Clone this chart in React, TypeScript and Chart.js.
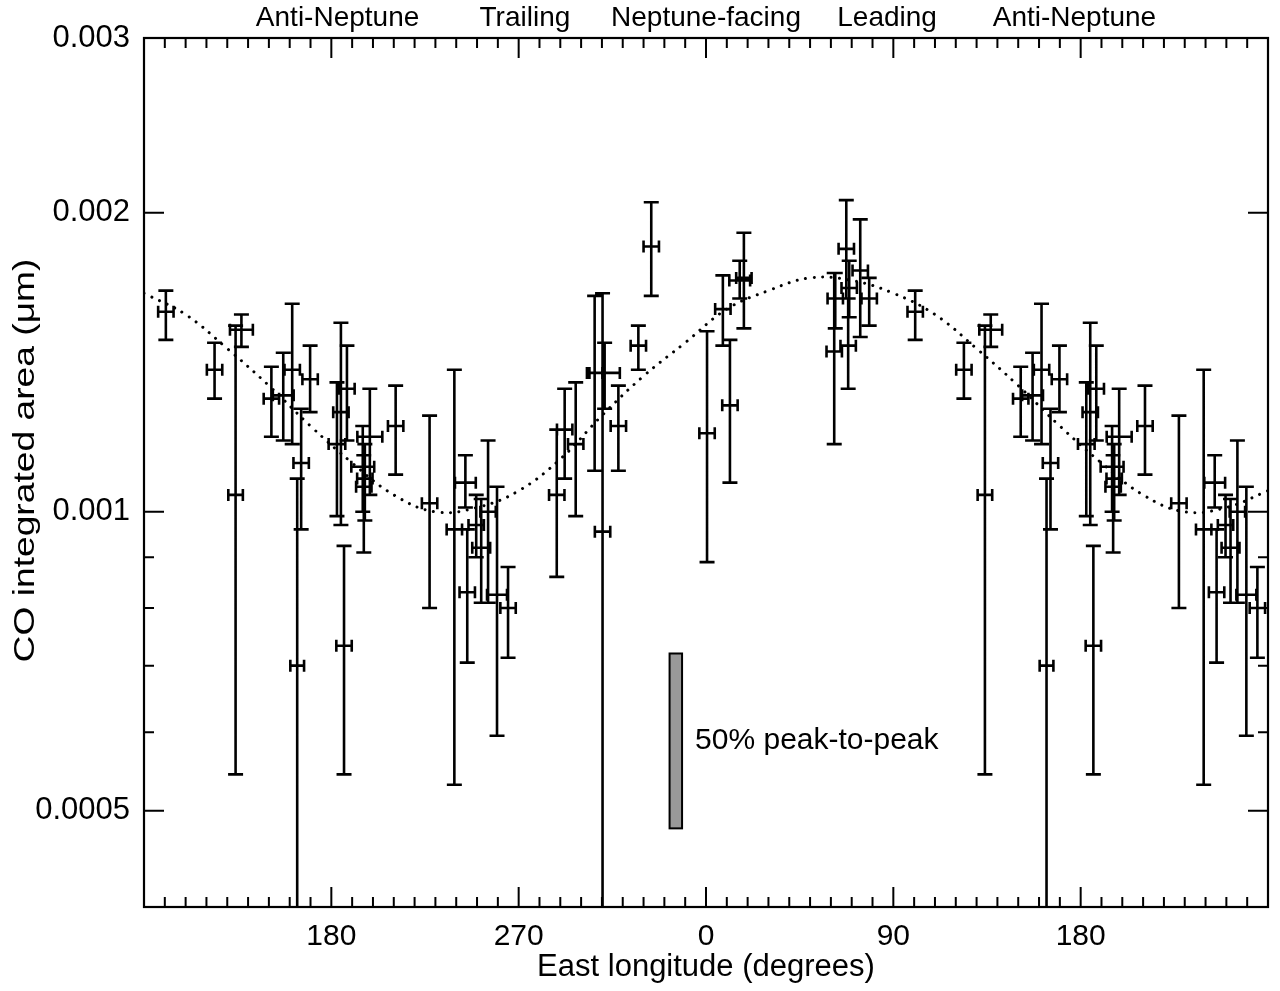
import React, { useEffect, useRef } from 'react';
import { Chart, registerables } from 'chart.js';

Chart.register(...registerables);

const FONT_FAMILY = '"Liberation Sans", Arial, Helvetica, sans-serif';

// Observations: East longitude (deg, 0-360), CO integrated area (µm), lower / upper bounds, longitude half-error (deg)
const obsLon = [
  0.5, 8.1, 11.5, 16.2, 18.2, 61.6, 62.1, 67.4, 68.3, 68.8, 74.1, 78.4,
  100.5, 123.9, 134.0, 136.8, 151.2, 156.9, 161.2, 163.6, 165.5, 169.8, 182.7, 184.6, 186.1, 187.5,
  195.1, 195.6, 196.1, 198.5, 210.9, 227.2, 239.1, 244.4, 245.3, 249.6, 252.0, 255.3, 259.6, 264.9,
  288.3, 292.1, 297.4, 306.5, 310.3, 311.3, 317.9, 327.5, 333.7,
];
const obsCO = [
  0.0012, 0.0016, 0.00128, 0.00171, 0.00172, 0.00145, 0.00164, 0.00184, 0.00147, 0.00168, 0.00175, 0.00164,
  0.00159, 0.00139, 0.00104, 0.001525, 0.0013, 0.00131, 0.00139, 0.0007, 0.00112, 0.00136, 0.00117, 0.00126, 0.000733, 0.00133,
  0.00111, 0.00106, 0.00108, 0.00119, 0.00122, 0.00102, 0.00096, 0.00107, 0.00083, 0.00097, 0.00092, 0.001, 0.000825, 0.0008,
  0.00104, 0.00121, 0.00117, 0.00138, 0.000955, 0.00138, 0.00122, 0.00147, 0.00185,
];
const obsLo = [
  0.00089, 0.00147, 0.00107, 0.00164, 0.00153, 0.00117, 0.00153, 0.00164, 0.00133, 0.00157, 0.0015, 0.00154,
  0.00149, 0.0013, 0.000544, 0.001466, 0.00119, 0.00118, 0.00117, 0.0003, 0.00096, 0.00126, 0.00099, 0.00097, 0.000544, 0.00118,
  0.001, 0.00091, 0.00098, 0.00104, 0.00109, 0.0008, 0.000531, 0.00101, 0.000705, 0.0009, 0.00081, 0.00081, 0.000595, 0.000713,
  0.00086, 0.00108, 0.00099, 0.0011, 0.0003, 0.00127, 0.0011, 0.00139, 0.00165,
];
const obsHi = [
  0.00152, 0.00173, 0.00149, 0.00179, 0.00191, 0.00174, 0.00174, 0.00206, 0.00164, 0.00179, 0.00197, 0.00172,
  0.00167, 0.00148, 0.00154, 0.00158, 0.0014, 0.001446, 0.00162, 0.00108, 0.00127, 0.00147, 0.00135, 0.00155, 0.000924, 0.00147,
  0.00122, 0.00114, 0.00117, 0.00133, 0.00134, 0.00125, 0.00139, 0.00114, 0.00096, 0.00104, 0.00103, 0.00118, 0.00106, 0.00088,
  0.00121, 0.00133, 0.00135, 0.00165, 0.00166, 0.00148, 0.00134, 0.00154, 0.00205,
];
const obsLonErr = [
  3.7, 3.7, 3.7, 5, 3.7, 3.7, 3.7, 3.7, 3.7, 3.7, 3.7, 3.7,
  3.7, 3.7, 3.5, 5.5, 3.7, 5, 3.7, 3.3, 3.7, 3.7, 4, 3.7, 3.7, 3.7,
  5.5, 3.7, 3.7, 6, 3.7, 3.7, 3.7, 5, 3.7, 3.7, 4.3, 3.7, 4.8, 3.7,
  3.7, 3.7, 3.7, 3.7, 3.7, 7.3, 3.7, 3.7, 3.7,
];

// Dotted fitted curve (plotted longitude, value)
const fitLon = [-270, -250, -230, -210, -190, -170, -150, -130, -110, -90, -70, -50, -30, -10,
  10, 30, 50, 70, 90, 110, 130, 150, 170, 190, 210, 230, 250, 270];
const fitCO = [0.00166, 0.00158, 0.00146, 0.00134, 0.00122, 0.00112, 0.00104, 0.001, 0.00101, 0.00105,
  0.00113, 0.00125, 0.00137, 0.00148, 0.0016, 0.00167, 0.00172, 0.00171, 0.00166, 0.00158, 0.00146,
  0.00134, 0.00122, 0.00112, 0.00104, 0.001, 0.00101, 0.00105];

// Axes
const xMin = -270;
const xMax = 270;
const xTickValues = [-180, -90, 0, 90, 180];
const xTickLabels = ['180', '270', '0', '90', '180'];
const topLabelLon = [-177, -87, 0, 87, 177];
const topLabels = ['Anti-Neptune', 'Trailing', 'Neptune-facing', 'Leading', 'Anti-Neptune'];
const yMin = 0.0004;
const yMax = 0.003;
const yTicks = [0.0004, 0.0005, 0.0006, 0.0007, 0.0008, 0.0009, 0.001, 0.002, 0.003];
const yTickLabels = [0.0005, 0.001, 0.002, 0.003];
const yTickText = ['0.0005', '0.001', '0.002', '0.003'];
const xTitle = 'East longitude (degrees)';
const yTitle = 'CO integrated area (μm)';

// 50% peak-to-peak scale bar
const peakBarLon = [-17.5, -11.5];
const peakBarCO = [0.00048, 0.00072];
const peakBarText = '50% peak-to-peak';

function yLabelIndex(v: number) {
  return yTickLabels.findIndex((t) => Math.abs(v - t) / t < 1e-6);
}

const framePlugin = {
  id: 'frameAndErrors',
  afterDatasetsDraw(chart: any) {
    const { ctx, chartArea: a } = chart;
    const xs = chart.scales.x;
    const ys = chart.scales.y;
    ctx.save();
    ctx.beginPath();
    ctx.rect(a.left, a.top, a.right - a.left, a.bottom - a.top);
    ctx.clip();

    // peak-to-peak bar
    const bx0 = xs.getPixelForValue(peakBarLon[0]);
    const bx1 = xs.getPixelForValue(peakBarLon[1]);
    const byT = ys.getPixelForValue(peakBarCO[1]);
    const byB = ys.getPixelForValue(peakBarCO[0]);
    ctx.fillStyle = '#999999';
    ctx.fillRect(bx0, byT, bx1 - bx0, byB - byT);
    ctx.lineWidth = 2;
    ctx.strokeStyle = '#000';
    ctx.strokeRect(bx0, byT, bx1 - bx0, byB - byT);
    ctx.fillStyle = '#000';
    ctx.font = `30px ${FONT_FAMILY}`;
    ctx.textAlign = 'left';
    ctx.textBaseline = 'middle';
    ctx.fillText(peakBarText, bx1 + 13, ys.getPixelForValue(Math.sqrt(peakBarCO[0] * peakBarCO[1])));

    // error bars
    const CAP = 7.5;
    const XCAP = 6;
    ctx.lineWidth = 2.6;
    ctx.lineCap = 'butt';
    const data = chart.data.datasets[1].data;
    ctx.beginPath();
    data.forEach((d: any) => {
      const px = xs.getPixelForValue(d.x);
      const py = ys.getPixelForValue(d.y);
      const pl = xs.getPixelForValue(d.x - d.xe);
      const pr = xs.getPixelForValue(d.x + d.xe);
      const pt = ys.getPixelForValue(d.hi);
      const pb = ys.getPixelForValue(d.lo);
      ctx.moveTo(px, pt); ctx.lineTo(px, pb);
      ctx.moveTo(px - CAP, pt); ctx.lineTo(px + CAP, pt);
      ctx.moveTo(px - CAP, pb); ctx.lineTo(px + CAP, pb);
      ctx.moveTo(pl, py); ctx.lineTo(pr, py);
      ctx.moveTo(pl, py - XCAP); ctx.lineTo(pl, py + XCAP);
      ctx.moveTo(pr, py - XCAP); ctx.lineTo(pr, py + XCAP);
    });
    ctx.stroke();
    ctx.restore();

    // ticks (inward) and frame
    ctx.save();
    ctx.strokeStyle = '#000';
    ctx.lineWidth = 2;
    ctx.beginPath();
    xs.ticks.forEach((t: any) => {
      const p = xs.getPixelForValue(t.value);
      const len = Math.abs(t.value % 90) < 1e-9 ? 20 : 10;
      ctx.moveTo(p, a.bottom); ctx.lineTo(p, a.bottom - len);
      ctx.moveTo(p, a.top); ctx.lineTo(p, a.top + len);
    });
    ys.ticks.forEach((t: any) => {
      const p = ys.getPixelForValue(t.value);
      const len = yLabelIndex(t.value) >= 0 ? 20 : 10;
      ctx.moveTo(a.left, p); ctx.lineTo(a.left + len, p);
      ctx.moveTo(a.right, p); ctx.lineTo(a.right - len, p);
    });
    ctx.stroke();
    ctx.lineWidth = 2.2;
    ctx.strokeRect(a.left, a.top, a.right - a.left, a.bottom - a.top);

    // y-axis title (stretched along its length, as in the original figure)
    ctx.fillStyle = '#000';
    ctx.font = `30px ${FONT_FAMILY}`;
    ctx.textAlign = 'center';
    ctx.textBaseline = 'middle';
    ctx.translate(26, (a.top + a.bottom) / 2 - 12);
    ctx.rotate(-Math.PI / 2);
    ctx.scale(1.24, 1);
    ctx.fillText(yTitle, 0, 0);
    ctx.restore();
  },
};

export default function App() {
  const ref = useRef<HTMLCanvasElement | null>(null);

  useEffect(() => {
    if (!ref.current) return;
    const points: any[] = [];
    obsLon.forEach((L, i) => {
      [L - 360, L].forEach((p) => {
        if (p >= xMin && p <= xMax) {
          points.push({ x: p, y: obsCO[i], lo: obsLo[i], hi: obsHi[i], xe: obsLonErr[i] });
        }
      });
    });
    const fit = fitLon.map((x, i) => ({ x, y: fitCO[i] }));

    const chart = new Chart(ref.current, {
      type: 'scatter',
      data: {
        datasets: [
          {
            data: fit,
            showLine: true,
            borderColor: '#000',
            borderWidth: 3,
            borderDash: [0.01, 8.5],
            borderCapStyle: 'round',
            tension: 0.4,
            pointRadius: 0,
            fill: false,
          } as any,
          {
            data: points,
            pointRadius: 0,
            showLine: false,
          } as any,
        ],
      },
      options: {
        animation: false,
        responsive: false,
        events: [],
        layout: { padding: { left: 0, right: 6, top: 0, bottom: 0 } },
        plugins: { legend: { display: false }, tooltip: { enabled: false }, title: { display: false } },
        scales: {
          x: {
            type: 'linear',
            position: 'bottom',
            min: xMin,
            max: xMax,
            grid: { display: false, drawTicks: false },
            border: { display: false },
            ticks: {
              stepSize: 10,
              autoSkip: false,
              maxRotation: 0,
              minRotation: 0,
              padding: 12,
              color: '#000',
              font: { family: FONT_FAMILY, size: 30 },
              callback: (v: any) => {
                const i = xTickValues.indexOf(Number(v));
                return i >= 0 ? xTickLabels[i] : '';
              },
            },
            title: {
              display: true,
              text: xTitle,
              color: '#000',
              font: { family: FONT_FAMILY, size: 31 },
              padding: { top: 0, bottom: 5 },
            },
            afterFit: (s: any) => { s.height = 84; },
          },
          x2: {
            type: 'linear',
            position: 'top',
            min: xMin,
            max: xMax,
            grid: { display: false, drawTicks: false },
            border: { display: false },
            afterBuildTicks: (s: any) => { s.ticks = topLabelLon.map((v) => ({ value: v })); },
            ticks: {
              autoSkip: false,
              maxRotation: 0,
              minRotation: 0,
              padding: 3,
              color: '#000',
              font: { family: FONT_FAMILY, size: 28 },
              callback: (v: any, i: number) => topLabels[i],
            },
            afterFit: (s: any) => { s.height = 38; },
          },
          y: {
            type: 'logarithmic',
            position: 'left',
            min: yMin,
            max: yMax,
            grid: { display: false, drawTicks: false },
            border: { display: false },
            afterBuildTicks: (s: any) => { s.ticks = yTicks.map((v) => ({ value: v })); },
            ticks: {
              autoSkip: false,
              padding: 14,
              color: '#000',
              font: { family: FONT_FAMILY, size: 31 },
              callback: (v: any) => {
                const i = yLabelIndex(Number(v));
                return i >= 0 ? yTickText[i] : '';
              },
            },
            title: { display: false },
            afterFit: (s: any) => { s.width = 144; },
          },
        },
      } as any,
      plugins: [framePlugin],
    });
    return () => chart.destroy();
  }, []);

  return (
    <div style={{ position: 'absolute', left: 0, top: 0, width: 1280, height: 991, background: '#fff' }}>
      <canvas ref={ref} width={1280} height={991} style={{ display: 'block' }} />
    </div>
  );
}
